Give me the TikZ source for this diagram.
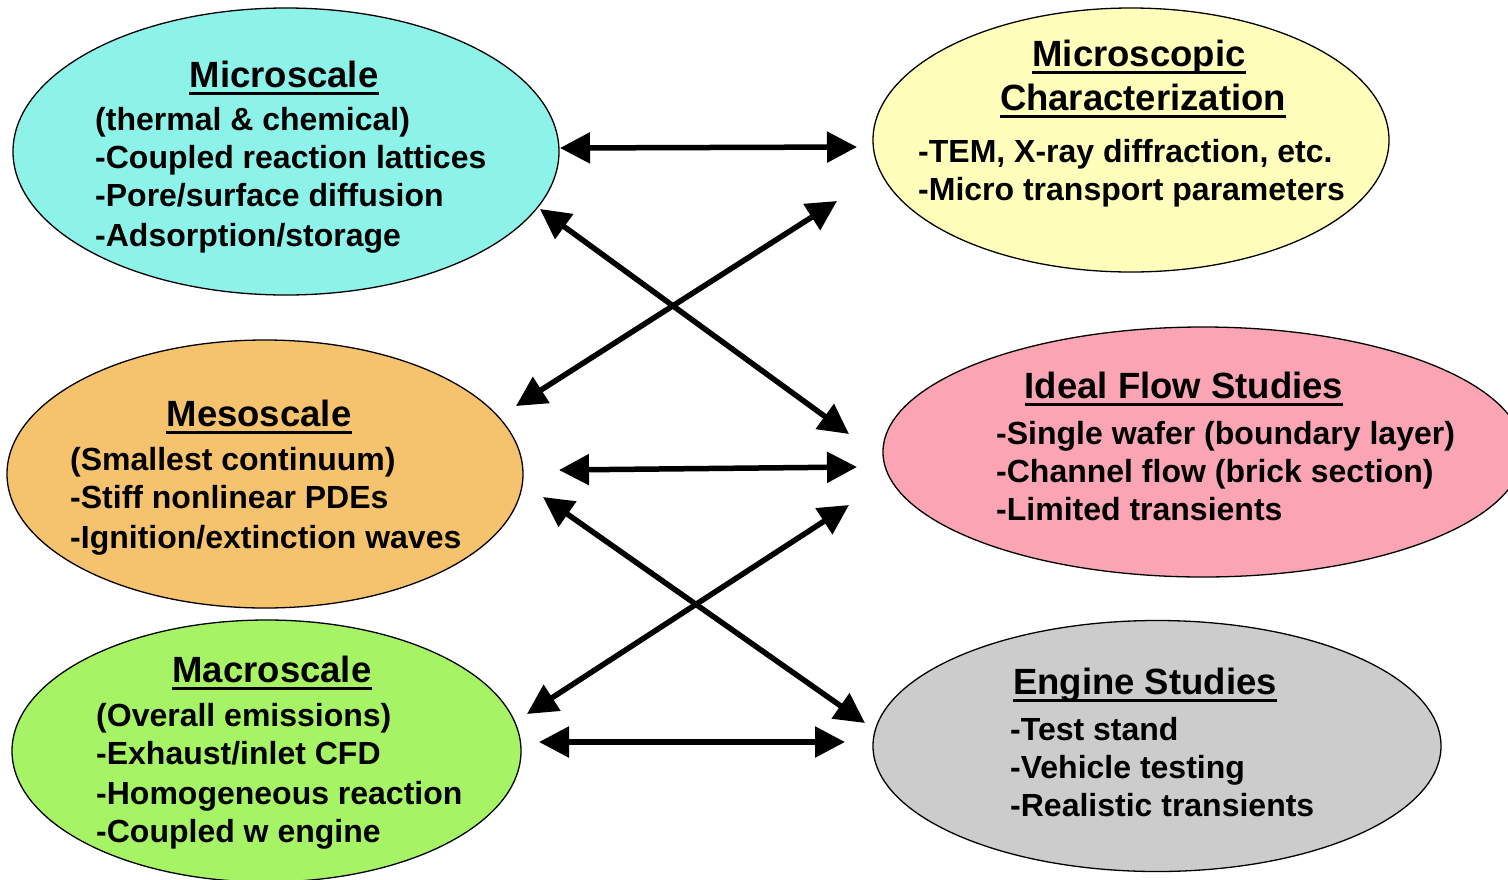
\documentclass[tikz,border=0pt]{standalone}
\usepackage{fontspec}
\setmainfont{Liberation Sans}
\usetikzlibrary{shapes.geometric,arrows.meta}

\definecolor{microfill}{HTML}{8DF3E9}
\definecolor{charfill}{HTML}{FFFFBB}
\definecolor{mesofill}{HTML}{F5C26E}
\definecolor{flowfill}{HTML}{FBA5B4}
\definecolor{macrofill}{HTML}{A6F466}
\definecolor{enginefill}{HTML}{CCCCCC}

\begin{document}
\begin{tikzpicture}[x=1pt,y=-1pt,
  blob/.style={ellipse, draw=black, line width=1.3pt, inner sep=0pt},
  head/.style={font=\bfseries\fontsize{36.5}{44}\selectfont, inner sep=0pt, anchor=base},
  item/.style={font=\bfseries\fontsize{32}{38}\selectfont, inner sep=0pt, anchor=base west},
  uline/.style={line width=3pt},
  link/.style={line width=5.5pt,
    {Triangle[length=30pt,width=30pt]}-{Triangle[length=30pt,width=30pt]}}]

\useasboundingbox (0,0) rectangle (1508,879);
\clip (0,0) rectangle (1508,879);

% ellipses
\node[blob, fill=microfill,  minimum width=546pt, minimum height=287pt] (micro)  at (286,151.5) {};
\node[blob, fill=charfill,   minimum width=516pt, minimum height=264pt] (char)   at (1131,140) {};
\node[blob, fill=mesofill,   minimum width=516pt, minimum height=268pt] (meso)   at (265,474) {};
\node[blob, fill=flowfill,   minimum width=640pt, minimum height=250pt] (flow)   at (1203,452) {};
\node[blob, fill=macrofill,  minimum width=509pt, minimum height=262pt] (macro)  at (266.5,751) {};
\node[blob, fill=enginefill, minimum width=568pt, minimum height=251pt] (engine) at (1157,746) {};

% Microscale
\node[head] (microT) at (284,87) {Microscale};
\draw[uline] ([yshift=-6pt]microT.base west) -- ([yshift=-6pt]microT.base east);
\node[item] (microA) at (95,130) {(thermal \& chemical)};
\node[item] (microB) at (95,168) {-Coupled reaction lattices};
\node[item] (microC) at (95,206) {-Pore/surface diffusion};
\node[item] (microD) at (95,246) {-Adsorption/storage};

% Microscopic characterization
\node[head] (charT1) at (1139,66) {Microscopic};
\draw[uline] ([yshift=-6pt]charT1.base west) -- ([yshift=-6pt]charT1.base east);
\node[head] (charT2) at (1143,110) {Characterization};
\draw[uline] ([yshift=-6pt]charT2.base west) -- ([yshift=-6pt]charT2.base east);
\node[item] (charA) at (918,162) {-TEM, X-ray diffraction, etc.};
\node[item] (charB) at (918,200) {-Micro transport parameters};

% Mesoscale
\node[head] (mesoT) at (259,426) {Mesoscale};
\draw[uline] ([yshift=-6pt]mesoT.base west) -- ([yshift=-6pt]mesoT.base east);
\node[item] (mesoA) at (70,470) {(Smallest continuum)};
\node[item] (mesoB) at (70,508) {-Stiff nonlinear PDEs};
\node[item] (mesoC) at (70,548) {-Ignition/extinction waves};

% Ideal flow studies
\node[head] (flowT) at (1184,398) {Ideal Flow Studies};
\draw[uline] ([yshift=-6pt]flowT.base west) -- ([yshift=-6pt]flowT.base east);
\node[item] (flowA) at (996,444) {-Single wafer (boundary layer)};
\node[item] (flowB) at (996,482) {-Channel flow (brick section)};
\node[item] (flowC) at (996,520) {-Limited transients};

% Macroscale
\node[head] (macroT) at (272,682) {Macroscale};
\draw[uline] ([yshift=-6pt]macroT.base west) -- ([yshift=-6pt]macroT.base east);
\node[item] (macroA) at (96,726) {(Overall emissions)};
\node[item] (macroB) at (96,764) {-Exhaust/inlet CFD};
\node[item] (macroC) at (96,804) {-Homogeneous reaction};
\node[item] (macroD) at (96,842) {-Coupled w engine};

% Engine studies
\node[head] (engineT) at (1145,694) {Engine Studies};
\draw[uline] ([yshift=-6pt]engineT.base west) -- ([yshift=-6pt]engineT.base east);
\node[item] (engineA) at (1010,740) {-Test stand};
\node[item] (engineB) at (1010,778) {-Vehicle testing};
\node[item] (engineC) at (1010,816) {-Realistic transients};

% connector ends, just off the ellipse borders
\coordinate (microR)   at (560,148);
\coordinate (charL)    at (857,147);
\coordinate (microLR)  at (540,209);
\coordinate (flowUL)   at (849,434);
\coordinate (mesoUR)   at (516,406);
\coordinate (charLL)   at (837,201);
\coordinate (mesoR)    at (559,470);
\coordinate (flowL)    at (857,467);
\coordinate (mesoLR)   at (543,497);
\coordinate (engineUL) at (865,723);
\coordinate (macroUR)  at (527,714);
\coordinate (flowLL)   at (849,505);
\coordinate (macroR)   at (539,742);
\coordinate (engineL)  at (845,742);

% two-way links
\draw[link] (microR) -- (charL);
\draw[link] (microLR) -- (flowUL);
\draw[link] (mesoUR) -- (charLL);
\draw[link] (mesoR) -- (flowL);
\draw[link] (mesoLR) -- (engineUL);
\draw[link] (macroUR) -- (flowLL);
\draw[link] (macroR) -- (engineL);
\end{tikzpicture}
\end{document}
